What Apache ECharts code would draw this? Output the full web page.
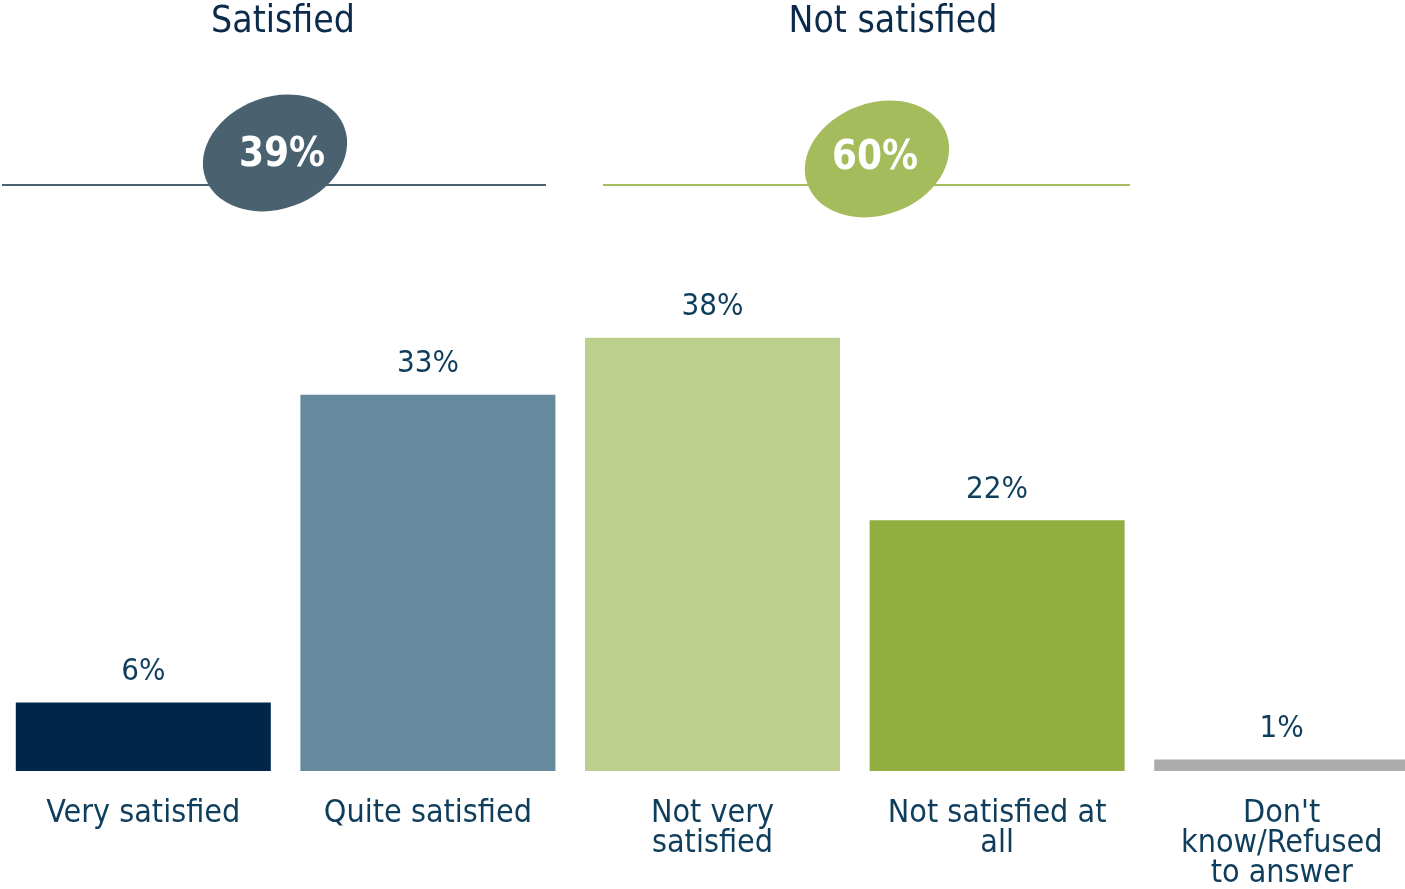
<!DOCTYPE html>
<html>
<head>
<meta charset="utf-8">
<script src="https://cdn.jsdelivr.net/npm/echarts@6/dist/echarts.min.js"></script>
<style>
  html, body { margin: 0; padding: 0; background: #ffffff; overflow: hidden; }
  #chart { width: 1424px; height: 889px; }
</style>
</head>
<body>
<div id="chart"></div>
<script>
// ---- data ----
const categories = ['Very satisfied', 'Quite satisfied', 'Not very\nsatisfied', 'Not satisfied at\nall', "Don't\nknow/Refused\nto answer"];
const values = [6, 33, 38, 22, 1];
const barColors = ['#002649', '#67899e', '#bdcf8d', '#92ae40', '#acacac'];
const groupTitles = ['Satisfied', 'Not satisfied'];
const groupTotals = [39, 60];
const groupColors = ['#4a6170', '#a4bc5c'];

const FONT = '"DejaVu Sans Condensed", "DejaVu Sans", sans-serif';
const chart = echarts.init(document.getElementById('chart'), null, { renderer: 'canvas' });

// group header decorations (positions in pixels)
const groupGeom = [
  { titleX: 283, lineX1: 2, lineX2: 546, ex: 275, ey: 153, tx: 282, ty: 156 },
  { titleX: 893, lineX1: 603, lineX2: 1130, ex: 877, ey: 159, tx: 875, ty: 159 }
];
const graphics = [];
groupGeom.forEach((g, i) => {
  graphics.push({
    type: 'text', x: g.titleX, y: 22, z: 10,
    style: { text: groupTitles[i], fill: '#0b2b4b', font: '37px ' + FONT, textAlign: 'center', textVerticalAlign: 'middle' }
  });
  graphics.push({
    type: 'line', z: 5,
    shape: { x1: g.lineX1, y1: 185, x2: g.lineX2, y2: 185 },
    style: { stroke: groupColors[i], lineWidth: 2 }
  });
  graphics.push({
    type: 'ellipse', x: g.ex, y: g.ey, rotation: 0.35, z: 6,
    shape: { cx: 0, cy: 0, rx: 74, ry: 56 },
    style: { fill: groupColors[i] }
  });
  graphics.push({
    type: 'text', x: g.tx, y: g.ty, z: 7,
    style: {
      text: groupTotals[i] + '%', fill: '#ffffff',
      font: 'bold 40px ' + FONT, textAlign: 'center', textVerticalAlign: 'middle'
    }
  });
});

const option = {
  backgroundColor: '#ffffff',
  animation: false,
  grid: { left: 1, right: 0, top: 315, height: 456, containLabel: false, outerBoundsMode: 'none' },
  xAxis: {
    type: 'category',
    data: categories,
    axisLine: { show: false },
    axisTick: { show: false },
    axisLabel: {
      interval: 0, margin: 28,
      fontFamily: FONT, fontSize: 32, lineHeight: 30, color: '#0f3d5c'
    }
  },
  yAxis: {
    type: 'value', min: 0, max: 40, show: false,
    splitLine: { show: false }
  },
  series: [{
    type: 'bar',
    barCategoryGap: '10.4%',
    data: values.map((v, i) => ({ value: v, itemStyle: { color: barColors[i] } })),
    label: {
      show: true, position: 'top', distance: 15,
      formatter: '{c}%',
      fontFamily: FONT, fontSize: 31, color: '#0f3d5c'
    }
  }],
  graphic: graphics
};
chart.setOption(option);
</script>
</body>
</html>
